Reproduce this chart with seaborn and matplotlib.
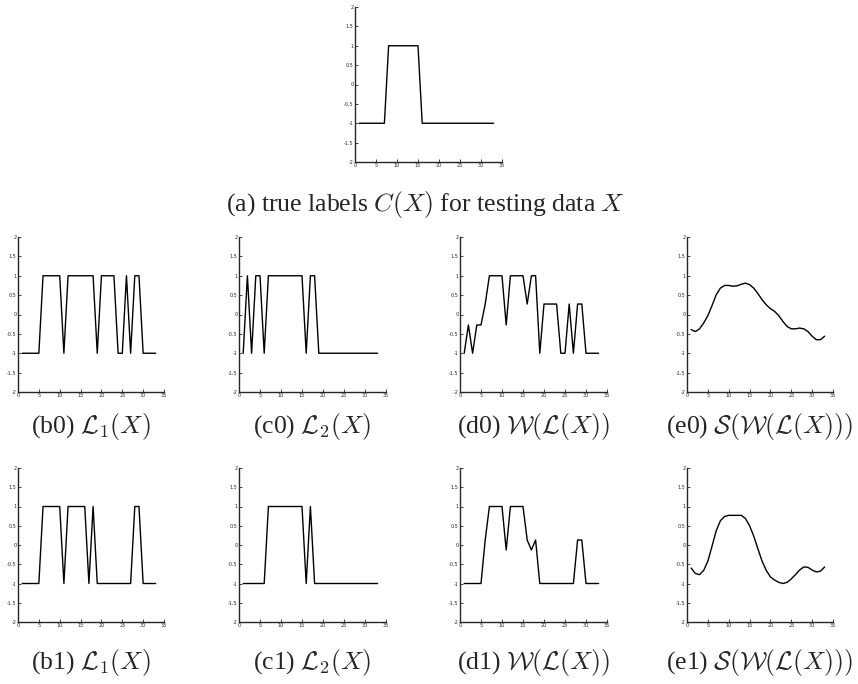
import numpy as np
import pandas as pd
import matplotlib
matplotlib.use('Agg')
import matplotlib.pyplot as plt
import seaborn as sns

# index of the testing samples
x = list(range(1, 34))

# (a) true labels
true_labels = [-1] * 7 + [1] * 8 + [-1] * 18

# row 0
b0 = [-1, -1, -1, -1, -1, 1, 1, 1, 1, 1, -1, 1, 1, 1, 1, 1, 1, 1, -1, 1, 1, 1, 1,
      -1, -1, 1, -1, 1, 1, -1, -1, -1, -1]
c0 = [-1, 1, -1, 1, 1, -1, 1, 1, 1, 1, 1, 1, 1, 1, 1, -1, 1, 1, -1, -1, -1, -1, -1,
      -1, -1, -1, -1, -1, -1, -1, -1, -1, -1]
d0 = [-1, -0.27, -1, -0.27, -0.27, 0.27, 1, 1, 1, 1, -0.27, 1, 1, 1, 1, 0.27, 1, 1,
      -1, 0.27, 0.27, 0.27, 0.27, -1, -1, 0.27, -1, 0.27, 0.27, -1, -1, -1, -1]
e0 = [-0.39, -0.44, -0.37, -0.22, -0.03, 0.23, 0.51, 0.68, 0.75, 0.75, 0.73, 0.74,
      0.78, 0.81, 0.77, 0.68, 0.54, 0.38, 0.25, 0.15, 0.08, -0.03, -0.18, -0.31,
      -0.37, -0.37, -0.35, -0.37, -0.44, -0.56, -0.65, -0.65, -0.56]

# row 1
b1 = [-1, -1, -1, -1, -1, 1, 1, 1, 1, 1, -1, 1, 1, 1, 1, 1, -1, 1, -1, -1, -1, -1,
      -1, -1, -1, -1, -1, 1, 1, -1, -1, -1, -1]
c1 = [-1, -1, -1, -1, -1, -1, 1, 1, 1, 1, 1, 1, 1, 1, 1, -1, 1, -1, -1, -1, -1, -1,
      -1, -1, -1, -1, -1, -1, -1, -1, -1, -1, -1]
d1 = [-1, -1, -1, -1, -1, 0.13, 1, 1, 1, 1, -0.13, 1, 1, 1, 1, 0.13, -0.13, 0.13,
      -1, -1, -1, -1, -1, -1, -1, -1, -1, 0.13, 0.13, -1, -1, -1, -1]
e1 = [-0.6, -0.74, -0.77, -0.66, -0.42, -0.03, 0.37, 0.63, 0.74, 0.77, 0.77, 0.77,
      0.77, 0.69, 0.5, 0.23, -0.1, -0.42, -0.66, -0.83, -0.91, -0.97, -1.0, -0.97,
      -0.88, -0.77, -0.65, -0.57, -0.58, -0.65, -0.7, -0.68, -0.57]

captions_row0 = [r'(b0) $\mathcal{L}_1(X)$', r'(c0) $\mathcal{L}_2(X)$',
                 r'(d0) $\mathcal{W}(\mathcal{L}(X))$',
                 r'(e0) $\mathcal{S}(\mathcal{W}(\mathcal{L}(X)))$']
captions_row1 = [r'(b1) $\mathcal{L}_1(X)$', r'(c1) $\mathcal{L}_2(X)$',
                 r'(d1) $\mathcal{W}(\mathcal{L}(X))$',
                 r'(e1) $\mathcal{S}(\mathcal{W}(\mathcal{L}(X)))$']
caption_a = r'(a) true labels $C(X)$ for testing data $X$'

xticks = [0, 5, 10, 15, 20, 25, 30, 35]
yticks = [-2, -1.5, -1, -0.5, 0, 0.5, 1, 1.5, 2]

sns.set_style('ticks')
plt.rcParams['font.family'] = ['Liberation Serif', 'DejaVu Serif']
plt.rcParams['mathtext.fontset'] = 'cm'

W, H = 858, 684
fig = plt.figure(figsize=(W / 100, H / 100), dpi=100)
cap_size = 18.5


def add_panel(left, top, right, bottom, values):
    ax = fig.add_axes([left / W, 1 - bottom / H, (right - left) / W, (bottom - top) / H])
    df = pd.DataFrame({'x': x, 'y': values})
    sns.lineplot(data=df, x='x', y='y', ax=ax, color='black', linewidth=1.0)
    ax.set_xlim(0, 35)
    ax.set_ylim(-2, 2)
    ax.set_xticks(xticks)
    ax.set_yticks(yticks)
    ax.set_xticklabels([str(t) for t in xticks])
    ax.set_yticklabels(['%g' % t for t in yticks])
    ax.tick_params(direction='in', length=2, width=0.6, labelsize=3.5, pad=1)
    for lab in ax.get_xticklabels() + ax.get_yticklabels():
        lab.set_family('DejaVu Sans')
    ax.set_xlabel('')
    ax.set_ylabel('')
    sns.despine(ax=ax)
    for s in ['left', 'bottom']:
        ax.spines[s].set_linewidth(1.0)
    return ax


# (a) on top
add_panel(355, 7, 502, 162, true_labels)
fig.text(425 / W, 1 - 204 / H, caption_a, ha='center', va='center', fontsize=cap_size)

lefts = [18, 239, 460, 687]
rights = [164, 386, 607, 833]
row0 = [b0, c0, d0, e0]
row1 = [b1, c1, d1, e1]

for i in range(4):
    add_panel(lefts[i], 237, rights[i], 392, row0[i])
    fig.text((lefts[i] + rights[i]) / 2 / W, 1 - 427 / H, captions_row0[i],
             ha='center', va='center', fontsize=cap_size)
    add_panel(lefts[i], 468, rights[i], 622, row1[i])
    fig.text((lefts[i] + rights[i]) / 2 / W, 1 - 662 / H, captions_row1[i],
             ha='center', va='center', fontsize=cap_size)

fig.savefig('out.png', dpi=100)
